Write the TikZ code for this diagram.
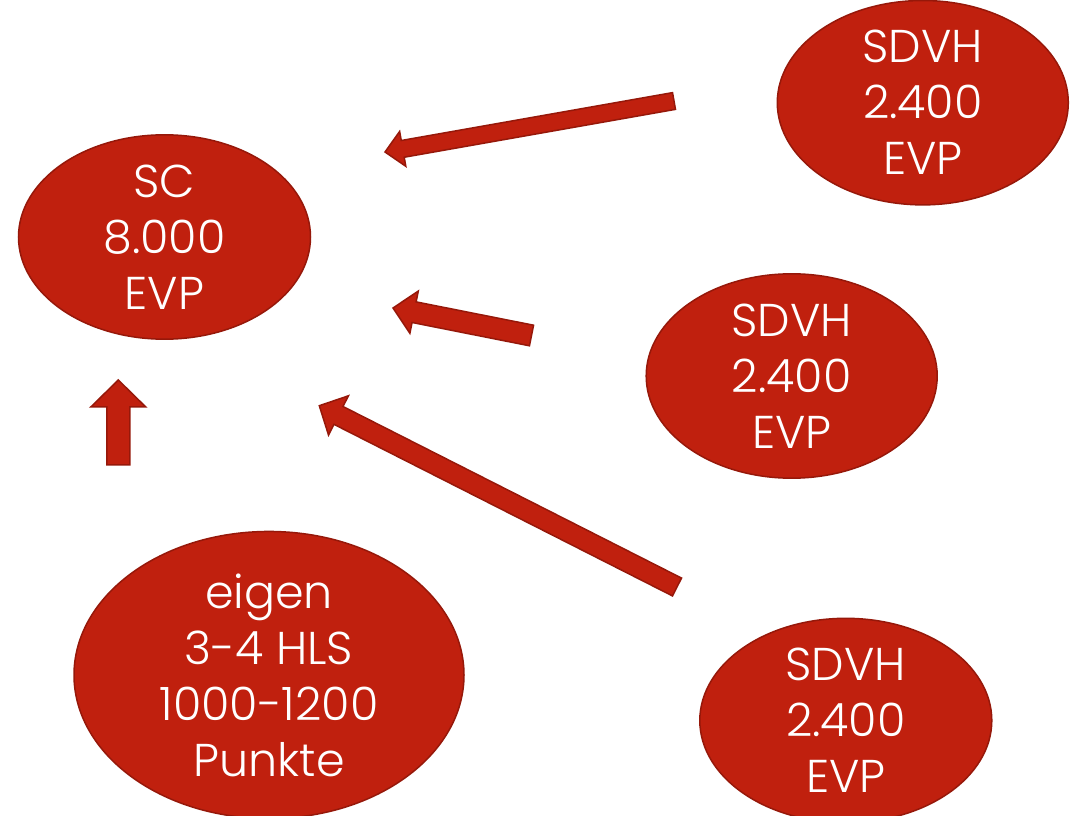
\documentclass[tikz,border=0pt]{standalone}
\usepackage{fontspec}
\setmainfont{Poppins}[UprightFont={* Light}]
\usetikzlibrary{shapes.geometric,calc}
\definecolor{evpred}{RGB}{192,32,14}
\definecolor{evpborder}{RGB}{150,24,10}
\tikzset{
  blob/.style={ellipse, fill=evpred, draw=evpborder, line width=1.5pt, inner sep=0pt,
    text=white, align=center, font=\fontsize{46}{56}\selectfont},
  blockarr/.style={fill=evpred, draw=evpborder, line width=1.5pt, line join=miter}
}
\newcommand\blockarrow[5]{%
  \coordinate (neck) at ($(#2)!#5!(#1)$);
  \draw[blockarr] ($(#1)!#3!90:(#2)$) -- ($(neck)!#3!90:(#2)$) -- ($(neck)!#4!90:(#2)$)
    -- (#2) -- ($(neck)!#4!-90:(#2)$) -- ($(neck)!#3!-90:(#2)$) -- ($(#1)!#3!-90:(#2)$) -- cycle;}
\begin{document}
\begin{tikzpicture}[x=1pt,y=1pt]
\useasboundingbox (0,0) rectangle (1079,815);
% ellipses
\node[blob, minimum width=292pt, minimum height=193pt] (sc) at (164.5,578) {SC\\8.000\\EVP};
\node[blob, minimum width=291pt, minimum height=193pt] (sdvh1) at (922.8,712.3) {SDVH\\2.400\\EVP};
\node[blob, minimum width=291pt, minimum height=193pt] (sdvh2) at (791.7,439) {SDVH\\2.400\\EVP};
\node[blob, minimum width=292pt, minimum height=188pt] (sdvh3) at (845.8,94.5) {SDVH\\2.400\\EVP};
\node[blob, minimum width=390pt, minimum height=276pt] (eigen) at (269,140) {eigen\\3-4 HLS\\1000-1200\\Punkte};
% arrow end points
\coordinate (a1tail) at (674,714);
\coordinate (a1tip) at (385,663);
\coordinate (a2tail) at (531.5,479.5);
\coordinate (a2tip) at (393,507);
\coordinate (a3tail) at (677,228);
\coordinate (a3tip) at (319.3,409.3);
\coordinate (a4tail) at (118.3,350);
\coordinate (a4tip) at (118.3,435);
% block arrows
\blockarrow{a1tail}{a1tip}{8.5pt}{17.7pt}{18pt}
\blockarrow{a2tail}{a2tip}{10.5pt}{21.5pt}{21.5pt}
\blockarrow{a3tail}{a3tip}{10pt}{22pt}{21.5pt}
\blockarrow{a4tail}{a4tip}{11.5pt}{27.5pt}{27pt}
\end{tikzpicture}
\end{document}
